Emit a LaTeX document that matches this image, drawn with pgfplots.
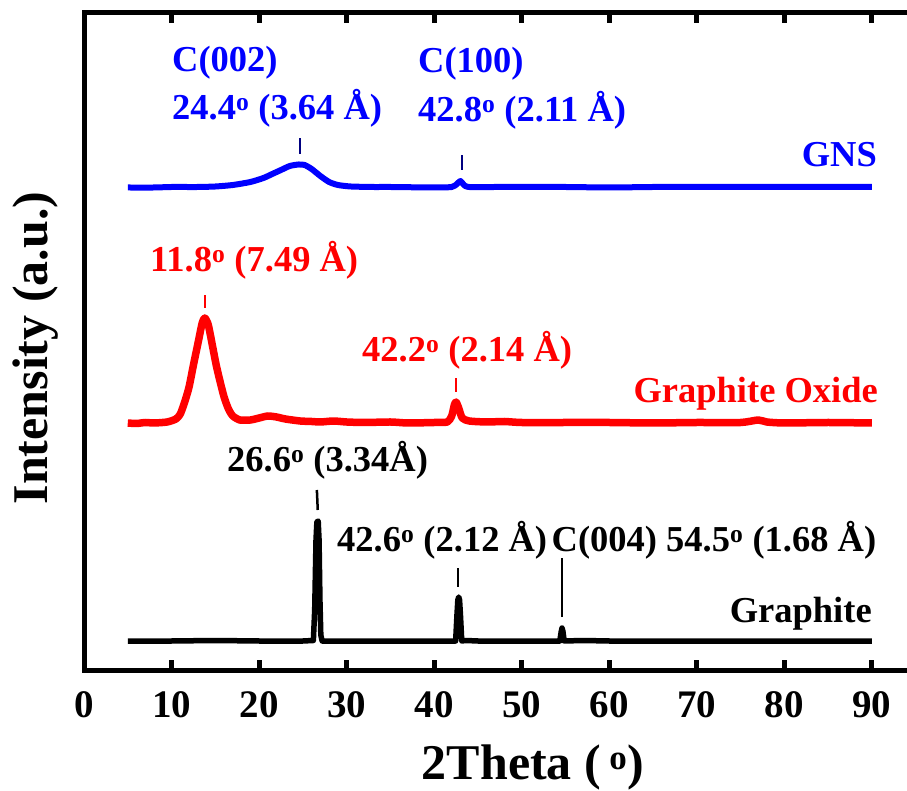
\documentclass[border=0pt]{standalone}
\usepackage{pgfplots}
\pgfplotsset{compat=1.18}
\usepackage{fontspec}
\setmainfont{Liberation Serif}
\definecolor{navy}{RGB}{0,0,128}
\newcommand{\ann}{\fontsize{36.5}{44}\selectfont\bfseries}
\begin{document}
\begin{tikzpicture}
\begin{axis}[
  at={(84pt,120pt)}, anchor=south west,
  scale only axis, width=831.7pt, height=657pt,
  xmin=0, xmax=95, ymin=120, ymax=777,
  axis line style={line width=5pt},
  xtick={0,10,20,30,40,50,60,70,80,90}, ytick=\empty,
  major tick length=10pt,
  tick style={line width=5pt, black},
  tick align=inside,
  /pgf/number format/assume math mode=true,
  xticklabel style={font=\fontsize{39}{47}\selectfont\bfseries, anchor=base, yshift=-47pt},
  clip=false,
]
% Graphite
\addplot[black, line width=5.5pt, line join=round] coordinates {
(5,149)(10,149)(15,149.5)(20,149)(25,149)(26.2,149.5)(26.35,180)(26.5,250)(26.6,268)(26.75,269)(26.85,250)(26.95,190)(27.05,155)(27.2,149)
(30,149)(35,149)(40,149)(42.45,149)(42.6,175)(42.7,190)(42.8,193)(42.9,190)(43.0,175)(43.15,149)(43.6,149.5)(45,149)
(50,149)(54.35,149)(54.5,158)(54.6,162)(54.7,159)(54.85,149)(57,149.5)(60,149)(70,149)(80,149)(90,149)};
% Graphite Oxide
\addplot[red, line width=7.5pt, line join=round, smooth, tension=0.4] coordinates {
(5,367)(6,366.5)(7,367.5)(8,367)(9.5,368)(10.5,371)(11,376)(11.5,388)(12,403)(12.5,425)(13,446)(13.5,467)(13.8,472)(14.2,465)(14.7,443)(15.1,425)(15.5,410)(16,393)(16.5,381)(17,374)(17.8,370)(19,370)(20,372)(21,374)(22,373)(23,371)(24.7,369)(26,368.5)(27,368)(28.5,369)(30,368)(32,367.5)(35,368)(37,367)(40,367.5)(41.5,368)(42,374)(42.3,385)(42.5,388)(42.8,382)(43.2,372)(44,369)(46,368)(48,368.5)(50,367.5)(55,367.5)(60,367.5)(65,367)(70,367.5)(75,367.5)(77,370)(78,368)(80,367)(85,367.5)(90,367)};
% GNS
\addplot[blue, line width=6pt, line join=round, smooth, tension=0.4] coordinates {
(5,602.5)(8,602.5)(10,603)(13,603)(15,603.5)(17,605)(19,608)(20.5,612)(21.5,616)(22.5,620)(23.5,624)(24.5,625.5)(25.2,625)(26,621)(27,614)(28,608)(29,605)(30.5,603.5)(33,603)(35,603)(40,602.5)(42,603)(42.6,606)(43,609)(43.4,605)(44,603)(47,603)(50,603)(55,603)(60,602.5)(65,603)(70,603)(75,603)(80,603)(85,603)(90,603)};
% peak marker lines
\addplot[navy, line width=2.5pt] coordinates {(24.7,636)(24.7,652)};
\addplot[navy, line width=2.5pt] coordinates {(43.2,620)(43.2,635)};
\addplot[red, line width=2.5pt] coordinates {(13.8,482)(13.8,495)};
\addplot[red, line width=2.5pt] coordinates {(42.5,398)(42.5,412)};
\addplot[black, line width=2.5pt] coordinates {(26.7,280)(26.6,300)};
\addplot[black, line width=2.5pt] coordinates {(42.7,203)(42.7,222)};
\addplot[black, line width=2pt] coordinates {(54.6,173)(54.6,232)};
% annotations
\node[blue, anchor=base west, inner sep=0pt, font=\ann] at (axis cs:10.05,718) {C(002)};
\node[blue, anchor=base west, inner sep=0pt, font=\ann] at (axis cs:10.05,670) {24.4\textsuperscript{o} (3.64 Å)};
\node[blue, anchor=base west, inner sep=0pt, font=\ann] at (axis cs:38.15,717) {C(100)};
\node[blue, anchor=base west, inner sep=0pt, font=\ann] at (axis cs:38.15,668) {42.8\textsuperscript{o} (2.11 Å)};
\node[blue, anchor=base east, inner sep=0pt, font=\ann] at (axis cs:90.58,623) {GNS};
\node[red, anchor=base west, inner sep=0pt, font=\ann] at (axis cs:7.54,518) {11.8\textsuperscript{o} (7.49 Å)};
\node[red, anchor=base west, inner sep=0pt, font=\ann] at (axis cs:31.75,428) {42.2\textsuperscript{o} (2.14 Å)};
\node[red, anchor=base east, inner sep=0pt, font=\ann] at (axis cs:90.7,387) {Graphite Oxide};
\node[black, anchor=base west, inner sep=0pt, font=\ann] at (axis cs:16.33,318) {26.6\textsuperscript{o} (3.34Å)};
\node[black, anchor=base west, inner sep=0pt, font=\ann] at (axis cs:28.9,238) {42.6\textsuperscript{o} (2.12 Å)};
\node[black, anchor=base west, inner sep=0pt, font=\ann] at (axis cs:53.4,238) {C(004) 54.5\textsuperscript{o} (1.68 Å)};
\node[black, anchor=base east, inner sep=0pt, font=\ann] at (axis cs:90.0,168) {Graphite};
\end{axis}
\node[rotate=90, anchor=base, inner sep=0pt, font=\fontsize{50}{60}\selectfont\bfseries] at (47pt,442pt) {Intensity (a.u.)};
\node[anchor=base, inner sep=0pt, font=\fontsize{50}{60}\selectfont\bfseries] at (533pt,11pt) {2Theta (\,\textsuperscript{o})};
\pgfresetboundingbox
\path[use as bounding box] (0pt,0pt) rectangle (907pt,790pt);
\end{tikzpicture}
\end{document}
